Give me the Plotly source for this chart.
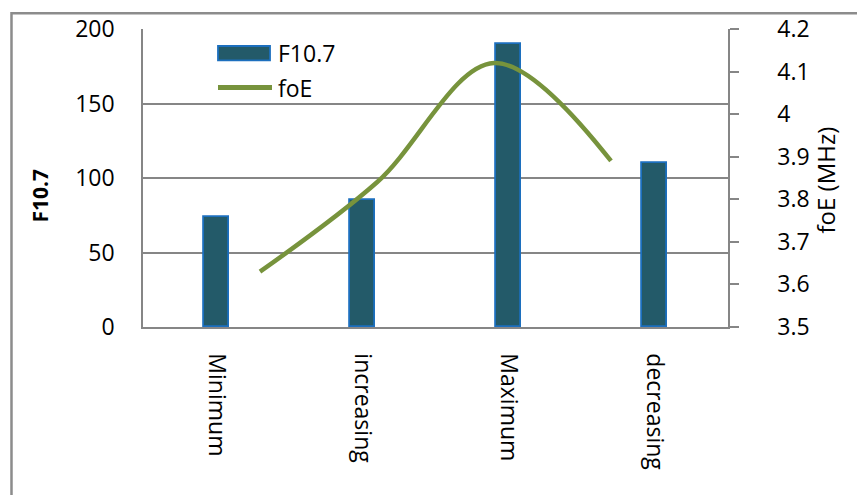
import plotly.graph_objects as go

# Solar-cycle phases with mean F10.7 flux and E-layer critical frequency
phases = ["Minimum", "increasing", "Maximum", "decreasing"]
f107 = [74, 85, 190, 110]
foe = [3.63, 3.84, 4.12, 3.89]

f107_ticks = [0, 50, 100, 150, 200]
foe_ticks = [3.5, 3.6, 3.7, 3.8, 3.9, 4.0, 4.1, 4.2]

GRID = "#868686"
BAR_FILL = "#235A69"
BAR_EDGE = "#1C6FBE"
LINE_CLR = "#77933C"
FONT = "Open Sans"

fig = go.Figure()

fig.add_trace(go.Bar(
    x=phases, y=f107, name="F10.7",
    width=0.17,
    marker=dict(color=BAR_FILL, line=dict(color=BAR_EDGE, width=1.8)),
    xaxis="x", yaxis="y",
))

fig.add_trace(go.Scatter(
    x=phases, y=foe, name="foE",
    mode="lines",
    line=dict(color=LINE_CLR, width=4.5, shape="spline", smoothing=1.0),
    xaxis="x2", yaxis="y2",
))

fig.update_layout(
    width=857, height=495,
    margin=dict(l=143, r=129, t=22, b=168, pad=0),
    paper_bgcolor="white", plot_bgcolor="white",
    font=dict(family=FONT, size=23, color="black"),
    showlegend=False,
    bargap=0,
    xaxis=dict(
        type="category", categoryorder="array", categoryarray=phases,
        range=[-0.5, 3.5],
        showline=True, linecolor=GRID, linewidth=1.5,
        showgrid=False, ticks="", tickangle=90,
        ticklabelstandoff=20,
        tickfont=dict(family=FONT, size=23),
        zeroline=False,
    ),
    xaxis2=dict(
        type="category", categoryorder="array", categoryarray=phases,
        overlaying="x", range=[-1, 4], visible=False,
    ),
    yaxis=dict(
        range=[0, 200], tickvals=f107_ticks,
        showline=True, linecolor=GRID, linewidth=1.5,
        showgrid=True, gridcolor=GRID, gridwidth=1.5,
        ticks="", ticklabelstandoff=22,
        tickfont=dict(family=FONT, size=23),
        zeroline=False,
    ),
    yaxis2=dict(
        range=[3.5, 4.2], tickvals=foe_ticks, tickformat=".1~f",
        overlaying="y", side="right",
        showline=True, linecolor=GRID, linewidth=1.5,
        showgrid=False, ticks="outside", ticklen=9, tickwidth=1.5,
        tickcolor=GRID, ticklabelstandoff=34,
        tickfont=dict(family=FONT, size=23),
        zeroline=False,
    ),
)

# Outer chart frame
fig.add_shape(type="rect", xref="paper", yref="paper",
              x0=-0.2248, x1=1.6, y0=-0.8, y1=1.0525,
              line=dict(color="#8C8C8C", width=2.5), fillcolor="rgba(0,0,0,0)",
              layer="below")

# Legend drawn inside the plot area
fig.add_shape(type="rect", xref="paper", yref="paper",
              x0=0.1282, x1=0.2171, y0=0.895, y1=0.943,
              fillcolor=BAR_FILL, line=dict(color=BAR_EDGE, width=1.8))
fig.add_shape(type="line", xref="paper", yref="paper",
              x0=0.1282, x1=0.2205, y0=0.804, y1=0.804,
              line=dict(color=LINE_CLR, width=5))
for label, ypos in [(fig.data[0].name, 0.919), (fig.data[1].name, 0.801)]:
    fig.add_annotation(text=label, xref="paper", yref="paper",
                       x=0.2274, y=ypos, xanchor="left", yanchor="middle",
                       showarrow=False, font=dict(family=FONT, size=23))

# Axis titles
fig.add_annotation(text="<b>F10.7</b>", xref="paper", yref="paper",
                   x=-0.176, y=0.441, textangle=-90, showarrow=False,
                   xanchor="center", yanchor="middle",
                   font=dict(family=FONT, size=21))
fig.add_annotation(text="foE (MHz)", xref="paper", yref="paper",
                   x=1.1658, y=0.495, textangle=-90, showarrow=False,
                   xanchor="center", yanchor="middle",
                   font=dict(family=FONT, size=24))

fig.write_html("out.html")
